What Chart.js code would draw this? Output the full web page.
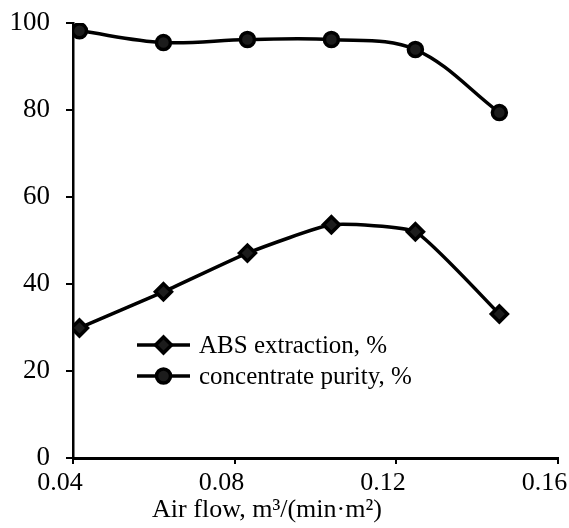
<!DOCTYPE html>
<html>
<head>
<meta charset="utf-8">
<script src="https://cdn.jsdelivr.net/npm/chart.js@4"></script>
<style>
  html, body { margin: 0; padding: 0; background: #fff; }
  #wrap { width: 569px; height: 528px; }
</style>
</head>
<body>
<div id="wrap"><canvas id="airChart"></canvas></div>
<script>
// values
const airFlow = [0.0416, 0.0624, 0.0832, 0.104, 0.1248, 0.1456];
const absExtraction = [29.9, 38.2, 47.1, 53.6, 52.0, 33.1];
const concentratePurity = [98.2, 95.5, 96.2, 96.2, 93.9, 79.4];
const xTicks = [0.04, 0.08, 0.12, 0.16];
const yTicks = [0, 20, 40, 60, 80, 100];
const xTitle = 'Air flow, m\u00b3/(min\u00b7m\u00b2)';

const FONT = '"Liberation Serif", serif';

function toPoints(ys) {
    return airFlow.map((x, i) => ({x: x, y: ys[i]}));
}

// legend sits inside the plot and the axis title is off-centre, so draw both by hand
const extras = {
    id: 'extras',
    afterDraw(chart) {
        const ctx = chart.ctx;
        const left = 137, lineLen = 53;
        const rows = [345, 376];
        ctx.save();
        chart.data.datasets.forEach((ds, i) => {
            const y = rows[i];
            ctx.strokeStyle = ds.borderColor;
            ctx.lineWidth = 3.5;
            ctx.beginPath();
            ctx.moveTo(left, y);
            ctx.lineTo(left + lineLen, y);
            ctx.stroke();
            ctx.fillStyle = ds.backgroundColor;
            ctx.strokeStyle = '#000';
            Chart.helpers.drawPoint(ctx, {
                pointStyle: ds.pointStyle,
                radius: ds.pointRadius,
                borderWidth: 1
            }, left + lineLen / 2, y);
            ctx.fillStyle = '#000';
            ctx.font = '25px ' + FONT;
            ctx.textBaseline = 'middle';
            ctx.textAlign = 'left';
            ctx.fillText(ds.label, 199, y + 1);
        });
        ctx.font = '26px ' + FONT;
        ctx.textAlign = 'center';
        ctx.textBaseline = 'alphabetic';
        ctx.fillText(xTitle, 267, 517);
        ctx.restore();
    }
};

function makeChart() {
    new Chart(document.getElementById('airChart'), {
        type: 'line',
        data: {
            datasets: [
                {
                    label: 'ABS extraction, %',
                    data: toPoints(absExtraction),
                    borderColor: '#000',
                    backgroundColor: '#1c1c1c',
                    pointBorderColor: '#000',
                    borderWidth: 3.5,
                    pointStyle: 'rectRot',
                    pointRadius: 8,
                    tension: 0.15
                },
                {
                    label: 'concentrate purity, %',
                    data: toPoints(concentratePurity),
                    borderColor: '#000',
                    backgroundColor: '#1c1c1c',
                    pointBorderColor: '#000',
                    borderWidth: 3.5,
                    pointStyle: 'circle',
                    pointRadius: 7,
                    tension: 0.35
                }
            ]
        },
        options: {
            responsive: true,
            maintainAspectRatio: false,
            animation: false,
            layout: { padding: { top: 23, right: 10, left: 0, bottom: 0 } },
            plugins: {
                legend: { display: false },
                tooltip: { enabled: false }
            },
            scales: {
                x: {
                    type: 'linear',
                    min: 0.04,
                    max: 0.16,
                    afterBuildTicks: (scale) => { scale.ticks = xTicks.map(v => ({value: v})); },
                    afterFit: (scale) => {
                        scale.height = 70;
                        scale.paddingLeft = 0;
                        scale.paddingRight = 0;
                    },
                    border: { color: '#000', width: 3 },
                    grid: { drawOnChartArea: false, drawTicks: true, tickLength: 6, color: '#000', lineWidth: 2 },
                    ticks: {
                        color: '#000',
                        font: { family: FONT, size: 26 },
                        padding: 4,
                        labelOffset: -13,
                        maxRotation: 0,
                        callback: (v) => v.toFixed(2)
                    }
                },
                y: {
                    min: 0,
                    max: 100,
                    afterBuildTicks: (scale) => { scale.ticks = yTicks.map(v => ({value: v})); },
                    afterFit: (scale) => {
                        scale.width = 73;
                        scale.paddingTop = 0;
                        scale.paddingBottom = 0;
                    },
                    border: { color: '#000', width: 2.5 },
                    grid: { drawOnChartArea: false, drawTicks: true, tickLength: 7, color: '#000', lineWidth: 2 },
                    ticks: {
                        color: '#000',
                        font: { family: FONT, size: 27 },
                        padding: 16
                    }
                }
            }
        },
        plugins: [extras]
    });
}

document.fonts.load('25px "Liberation Serif"').then(makeChart, makeChart);
</script>
</body>
</html>
